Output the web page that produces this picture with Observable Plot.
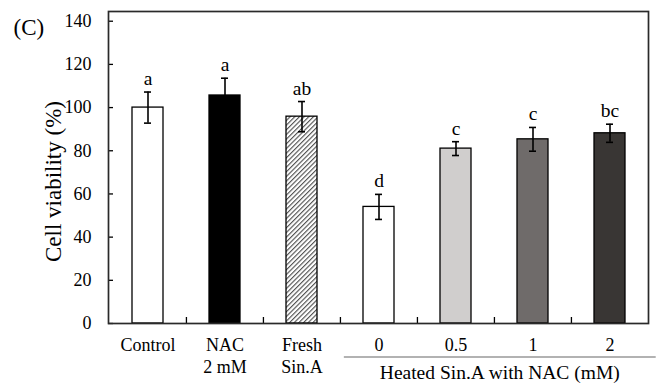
<!DOCTYPE html>
<html><head><meta charset="utf-8">
<script src="https://cdn.jsdelivr.net/npm/d3@7"></script>
<script src="https://cdn.jsdelivr.net/npm/@observablehq/plot@0.6"></script>
<style>body{margin:0;background:#fff} #chart{width:658px;height:385px}</style>
</head><body><div id="chart"></div>
<script>
const categories = ["Control", "NAC\n2 mM", "Fresh\nSin.A", "0", "0.5", "1", "2"];
const viability = [100, 105.6, 95.8, 54.0, 81.0, 85.3, 88.1];
const errors = [7.2, 8.0, 7.0, 5.8, 3.2, 5.5, 4.2];
const letters = ["a", "a", "ab", "d", "c", "c", "bc"];
const fills = ["#ffffff", "#000000", "url(#hatch)", "#ffffff", "#d0cecd", "#6f6b6a", "#393634"];
const yTicks = [0, 20, 40, 60, 80, 100, 120, 140];
const groupLabel = "Heated Sin.A with NAC (mM)";
const yLabel = "Cell viability (%)";
const panel = "(C)";

const data = categories.map((c, i) => ({cat: c, v: viability[i], e: errors[i], letter: letters[i], fill: fills[i]}));
const W = 658, H = 385, mL = 108, mR = 10, mT = 11, mB = 62;
const innerW = W - mL - mR, innerH = H - mT - mB;
const step = innerW / categories.length;
const font = "'Liberation Serif', 'Times New Roman', serif";

function groupMark(index, scales, values, dims) {
  const x = scales.x;
  const bw = typeof x.bandwidth === "function" ? x.bandwidth() : step * 0.4;
  const s = typeof x.step === "function" ? x.step() : step;
  const x1 = x(categories[3]) + bw / 2 - 0.45 * s;
  const x2 = x(categories[6]) + bw / 2 + 0.6 * s;
  const yb = dims.height - dims.marginBottom;
  const g = d3.create("svg:g");
  g.append("line").attr("x1", x1).attr("x2", x2).attr("y1", yb + 34).attr("y2", yb + 34)
    .attr("stroke", "#666").attr("stroke-width", 1.1);
  g.append("text").attr("x", (x1 + x2) / 2).attr("y", yb + 56).attr("text-anchor", "middle")
    .attr("font-size", 19.5).attr("font-family", font).attr("fill", "#000").text(groupLabel);
  return g.node();
}

const chart = Plot.plot({
  width: W, height: H,
  marginLeft: mL, marginRight: mR, marginTop: mT, marginBottom: mB,
  style: {fontFamily: font, fontSize: "18px", color: "#000", background: "#fff", overflow: "visible"},
  x: {domain: categories, paddingInner: 0.6, paddingOuter: 0.3, align: 0.5},
  y: {domain: [0, 144.5]},
  color: {type: "identity"},
  marks: [
    Plot.barY(data, {x: "cat", y: "v", fill: "fill", stroke: "#000", strokeWidth: 1.3}),
    Plot.ruleX(data, {x: "cat", y1: d => d.v - d.e, y2: d => d.v + d.e, stroke: "#000", strokeWidth: 1.6}),
    Plot.tickY(data, {x: "cat", y: d => d.v + d.e, insetLeft: 12, insetRight: 12, stroke: "#000", strokeWidth: 1.6}),
    Plot.tickY(data, {x: "cat", y: d => d.v - d.e, insetLeft: 12, insetRight: 12, stroke: "#000", strokeWidth: 1.6}),
    Plot.text(data, {x: "cat", y: d => d.v + d.e, text: "letter", lineAnchor: "bottom", dy: -7, fontSize: 19.5}),
    Plot.axisY({ticks: yTicks, tickSize: 0, tickPadding: 17, label: null, fontSize: 18}),
    Plot.ruleY(yTicks, {y: d => d, insetRight: innerW - 5, stroke: "#000", strokeWidth: 1.3}),
    Plot.axisX({tickSize: 0, tickPadding: 13, label: null, fontSize: 18, lineHeight: 1.17}),
    Plot.ruleX(categories.slice(1), {x: d => d, dx: -step / 2, insetTop: innerH - 6, stroke: "#000", strokeWidth: 1.3}),
    Plot.frame({stroke: "#2a2a2a", strokeWidth: 1.7}),
    Plot.text([yLabel], {text: d => d, frameAnchor: "left", textAnchor: "middle", rotate: -90, dx: -55, dy: 14, fontSize: 23}),
    Plot.text([panel], {text: d => d, frameAnchor: "top-left", textAnchor: "start", lineAnchor: "bottom", dx: -95, dy: 23, fontSize: 23}),
    groupMark
  ]
});

const svg = d3.select(chart);
const defs = svg.insert("defs", ":first-child");
const pat = defs.append("pattern").attr("id", "hatch").attr("patternUnits", "userSpaceOnUse")
  .attr("width", 3.3).attr("height", 3.3).attr("patternTransform", "rotate(45)");
pat.append("rect").attr("width", 3.3).attr("height", 3.3).attr("fill", "#fff");
pat.append("line").attr("x1", 0.6).attr("y1", 0).attr("x2", 0.6).attr("y2", 3.3)
  .attr("stroke", "#3a3a3a").attr("stroke-width", 1);
document.getElementById("chart").appendChild(chart);
</script>
</body></html>
